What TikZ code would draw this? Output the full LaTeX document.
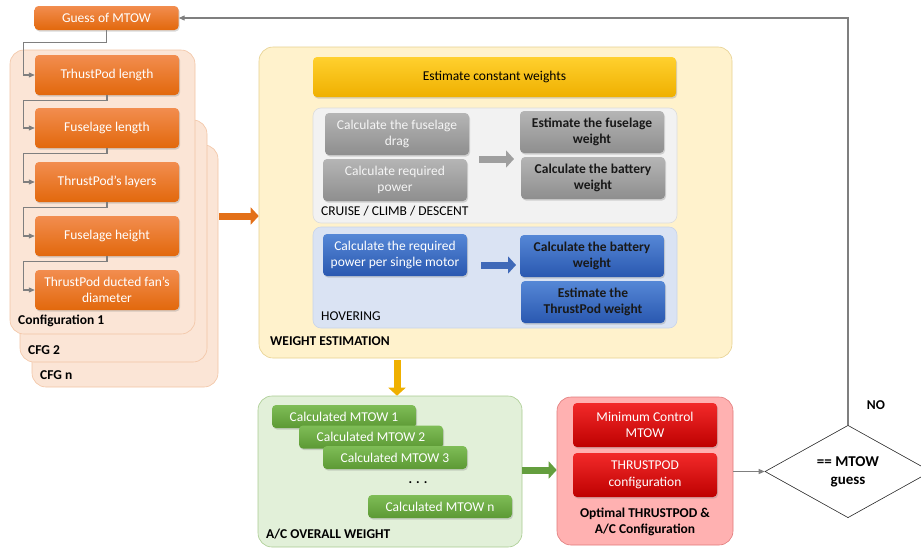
\documentclass[tikz,border=0pt]{standalone}
\usepackage{fontspec}
\setmainfont{Carlito}
\usetikzlibrary{positioning}
\usetikzlibrary{shapes.geometric}
\usetikzlibrary{shadows}
\usetikzlibrary{arrows.meta}

\definecolor{orTop}{HTML}{F28D4F}
\definecolor{orBot}{HTML}{E2680C}
\definecolor{cfgFill}{HTML}{FBE5D6}
\definecolor{cfgLine}{HTML}{F2C4A4}
\definecolor{weFill}{HTML}{FFF2CC}
\definecolor{weLine}{HTML}{E6D08F}
\definecolor{yeTop}{HTML}{FFD02E}
\definecolor{yeBot}{HTML}{EFB000}
\definecolor{crFill}{HTML}{F2F2F2}
\definecolor{crLine}{HTML}{DCDCDC}
\definecolor{grTop}{HTML}{B5B5B5}
\definecolor{grBot}{HTML}{8E8E8E}
\definecolor{hoFill}{HTML}{DAE3F3}
\definecolor{hoLine}{HTML}{C8D4EA}
\definecolor{blTop}{HTML}{5587D6}
\definecolor{blBot}{HTML}{2A58B0}
\definecolor{acFill}{HTML}{E2F0D9}
\definecolor{acLine}{HTML}{A9CB90}
\definecolor{gnTop}{HTML}{7FBD57}
\definecolor{gnBot}{HTML}{5C9934}
\definecolor{opFill}{HTML}{FFB1B1}
\definecolor{opLine}{HTML}{E07A7A}
\definecolor{rdTop}{HTML}{F22A2A}
\definecolor{rdBot}{HTML}{BE0000}
\definecolor{lnGray}{HTML}{7F7F7F}

\begin{document}
\begin{tikzpicture}
  [
    x=1pt, y=-1pt,
    font=\fontsize{13.5}{16.5}\selectfont,
    box/.style={rounded corners=4pt, minimum width=144pt, minimum height=42pt,
      text width=138pt, align=flush center, inner sep=1pt,
      drop shadow={shadow xshift=1pt, shadow yshift=-1.5pt, opacity=.3}},
    orbox/.style={box, top color=orTop, bottom color=orBot, text=white},
    grbox/.style={box, top color=grTop, bottom color=grBot, text=black!4},
    grboxb/.style={grbox, text=black!90, font=\fontsize{13.5}{16.5}\selectfont\bfseries},
    blbox/.style={box, top color=blTop, bottom color=blBot, text=white},
    blboxb/.style={blbox, text=black!90, font=\fontsize{13.5}{16.5}\selectfont\bfseries},
    gnbox/.style={box, minimum height=23pt, top color=gnTop, bottom color=gnBot, text=white},
    rdbox/.style={box, minimum height=44pt, top color=rdTop, bottom color=rdBot, text=white},
    panel/.style={rounded corners=14pt, inner sep=0pt, line width=0.6pt},
    sub/.style={rounded corners=8pt, inner sep=0pt, line width=0.6pt,
      minimum width=364pt},
    tag/.style={anchor=west, inner sep=0pt, font=\fontsize{13.5}{16.5}\selectfont\bfseries},
    link/.style={draw=lnGray, line width=1.1pt, -{Triangle[length=6pt,width=5pt]}},
    fat/.style={line width=7pt, -{Triangle[length=8pt,width=17pt]}}
  ]
  \useasboundingbox (0,0) rectangle (921,549);

  \node (guess) at (106.5,18) [orbox, minimum height=24pt] {Guess of MTOW};

  \node (cfgn) at (125,266)   [panel, fill=cfgFill, draw=cfgLine, minimum width=186pt, minimum height=242pt] {};
  \node (cfg2) at (113.5,241) [panel, fill=cfgFill, draw=cfgLine, minimum width=187pt, minimum height=242pt] {};
  \node (cfg1) at (102.5,192) [panel, fill=cfgFill, draw=cfgLine, minimum width=185pt, minimum height=284pt] {};
  \node (lcfgn) at (40,375) [tag] {CFG n};
  \node (lcfg2) at (28,350) [tag] {CFG 2};
  \node (lcfg1) at (18,321) [tag] {Configuration 1};

  \node (tpl) at (107,75)  [orbox, minimum height=40pt] {TrhustPod length};
  \node (fsl) at (107,128) [orbox, minimum height=40pt] {Fuselage length};
  \node (tpy) at (107,182) [orbox, minimum height=40pt] {ThrustPod’s layers};
  \node (fsh) at (107,236) [orbox, minimum height=40pt] {Fuselage height};
  \node (tpd) at (107,290) [orbox, minimum height=40pt] {ThrustPod ducted fan’s\\diameter};

  \foreach \a/\b/\d in {guess/tpl/12, tpl/fsl/5, fsl/tpy/5, tpy/fsh/5, fsh/tpd/5}
    \draw [link] (\a.south) -- ++(0,\d) -| ([xshift=-11pt]\b.west) -- (\b.west);

  \node (west) at (495.5,202.5) [panel, fill=weFill, draw=weLine, minimum width=473pt, minimum height=311pt] {};
  \node (lwest) at (270,341) [tag] {WEIGHT ESTIMATION};
  \node (ecw) at (494.5,77) [box, minimum width=363pt, minimum height=40pt, text width=350pt,
    top color=yeTop, bottom color=yeBot] {Estimate constant weights};

  \node (cruise) at (495,165.5) [sub, fill=crFill, draw=crLine, minimum height=115pt] {};
  \node (lcruise) at (321,211) [tag, font=\fontsize{13.5}{16.5}\selectfont] {CRUISE / CLIMB / DESCENT};
  \node (cfd) at (397,134) [grbox] {Calculate the fuselage\\drag};
  \node (crp) at (395,180) [grbox] {Calculate required\\power};
  \node (efw) at (592,132) [grboxb] {Estimate the fuselage\\weight};
  \node (cbw) at (593,178) [grboxb] {Calculate the battery\\weight};
  \coordinate (ga1) at (479,159);
  \coordinate (ga2) at (514,159);
  \draw [fat, draw=grBot!85] (ga1) -- (ga2);

  \node (hover) at (495,277.5) [sub, fill=hoFill, draw=hoLine, minimum height=101pt] {};
  \node (lhover) at (321,316) [tag, font=\fontsize{13.5}{16.5}\selectfont] {HOVERING};
  \node (rpm) at (395,255) [blbox] {Calculate the required\\power per single motor};
  \node (hbw) at (592,256) [blboxb] {Calculate the battery\\weight};
  \node (etw) at (593,302) [blboxb] {Estimate the\\ThrustPod weight};
  \coordinate (ba1) at (481,265);
  \coordinate (ba2) at (516,265);
  \draw [fat, draw=blBot!90] (ba1) -- (ba2);

  \coordinate (oa) at (219,216);
  \draw [fat, draw=orBot!95] (oa) -- (oa -| west.west);

  \node (acw) at (390,471.5) [panel, fill=acFill, draw=acLine, minimum width=264pt, minimum height=151pt] {};
  \node (lacw) at (266,534) [tag] {A/C OVERALL WEIGHT};
  \node (m1) at (344,416.5) [gnbox] {Calculated MTOW 1};
  \node (m2) at (371,437)   [gnbox] {Calculated MTOW 2};
  \node (m3) at (395,457.5) [gnbox] {Calculated MTOW 3};
  \node (dots) at (418,483) {\textbf{. . .}};
  \node (mn) at (440,506.5) [gnbox] {Calculated MTOW n};

  \coordinate (ya) at (397,360);
  \draw [fat, draw=yeBot] (ya) -- (ya |- acw.north);

  \node (opt) at (645,471) [panel, fill=opFill, draw=opLine, minimum width=176pt, minimum height=148pt] {};
  \node (mcm) at (645,425) [rdbox] {Minimum Control\\MTOW};
  \node (tpc) at (645,475) [rdbox] {THRUSTPOD\\configuration};
  \node (lopt) at (645,522) [align=center, inner sep=0pt, font=\fontsize{13.5}{16.5}\selectfont\bfseries]
    {Optimal THRUSTPOD \&\\A/C Configuration};

  \coordinate (na) at (522,470);
  \draw [fat, draw=gnBot!95] (na) -- (na -| opt.west);

  \node (chk) at (848,471.5) [diamond, draw=black!85, line width=0.6pt, inner sep=0pt,
    minimum width=166pt, minimum height=79pt, align=center,
    font=\fontsize{15}{18}\selectfont\bfseries] {== MTOW\\guess};
  \draw [link] (opt.east |- chk.west) -- (chk.west);
  \draw [link] (chk.north) |- (guess.east);
  \node (no) at (876,405) [font=\fontsize{13.5}{16.5}\selectfont\bfseries] {NO};
\end{tikzpicture}
\end{document}
